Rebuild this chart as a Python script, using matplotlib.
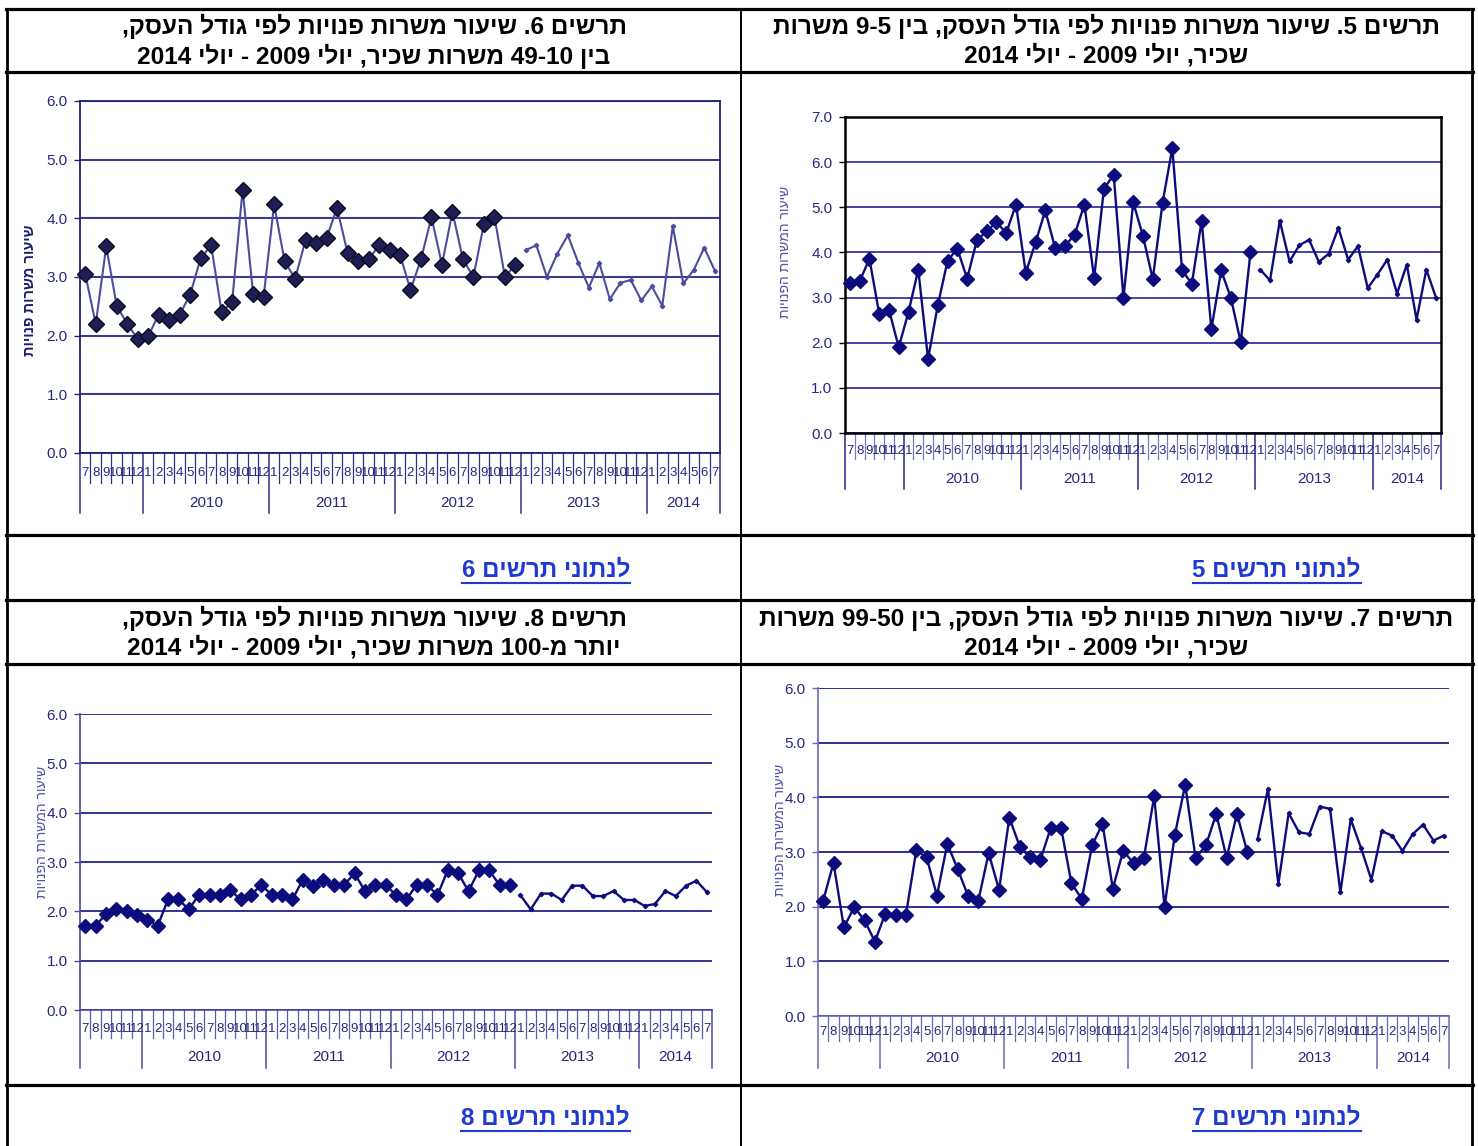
import re
import matplotlib
matplotlib.use('Agg')
import matplotlib.pyplot as plt
from matplotlib.lines import Line2D

W, H = 1478, 1146

# ---- data (7/2009 .. 7/2014, 61 months) ----
months = ['7', '8', '9', '10', '11', '12'] + [str(m) for m in range(1, 13)] * 4 + [str(m) for m in range(1, 8)]
years = ['2010', '2011', '2012', '2013', '2014']
year_start = [6, 18, 30, 42, 54]

# chart 5: 5-9 employees
c5_old = [3.32, 3.36, 3.86, 2.64, 2.73, 1.90, 2.68, 3.62, 1.64, 2.83, 3.82, 4.08,
          3.42, 4.27, 4.47, 4.67, 4.43, 5.06, 3.55, 4.22, 4.93, 4.10, 4.14, 4.39,
          5.06, 3.43, 5.41, 5.72, 2.99, 5.11, 4.36, 3.41, 5.10, 6.31, 3.60, 3.31,
          4.70, 2.30, 3.60, 2.99, 2.01, 4.00]
c5_new = [3.62, 3.38, 4.70, 3.80, 4.16, 4.28, 3.79, 3.97, 4.54, 3.84, 4.14, 3.21,
          3.51, 3.84, 3.09, 3.73, 2.51, 3.62, 2.99]

# chart 6: 10-49 employees
c6_old = [3.05, 2.20, 3.52, 2.51, 2.20, 1.95, 1.99, 2.36, 2.26, 2.36, 2.70, 3.32,
          3.54, 2.40, 2.58, 4.49, 2.71, 2.66, 4.24, 3.27, 2.97, 3.63, 3.58, 3.66,
          4.18, 3.41, 3.28, 3.30, 3.54, 3.46, 3.38, 2.78, 3.30, 4.02, 3.21, 4.11,
          3.30, 3.00, 3.91, 4.03, 3.00, 3.21]
c6_new = [3.46, 3.54, 3.00, 3.40, 3.71, 3.24, 2.82, 3.24, 2.62, 2.90, 2.95, 2.60,
          2.84, 2.51, 3.87, 2.89, 3.12, 3.50, 3.11]

# chart 7: 50-99 employees
c7_old = [2.11, 2.80, 1.62, 1.99, 1.75, 1.36, 1.87, 1.84, 1.85, 3.03, 2.90, 2.20,
          3.15, 2.69, 2.20, 2.11, 2.98, 2.31, 3.63, 3.10, 2.90, 2.86, 3.44, 3.44,
          2.43, 2.14, 3.12, 3.52, 2.33, 3.02, 2.80, 2.89, 4.02, 2.00, 3.32, 4.23,
          2.89, 3.12, 3.70, 2.89, 3.70, 3.00]
c7_new = [3.24, 4.16, 2.41, 3.71, 3.36, 3.33, 3.83, 3.79, 2.26, 3.60, 3.07, 2.49,
          3.38, 3.30, 3.02, 3.33, 3.50, 3.21, 3.30]

# chart 8: 100+ employees
c8_old = [1.71, 1.71, 1.94, 2.04, 2.00, 1.92, 1.82, 1.71, 2.24, 2.24, 2.04, 2.34,
          2.34, 2.34, 2.43, 2.24, 2.33, 2.54, 2.33, 2.33, 2.24, 2.64, 2.52, 2.63,
          2.54, 2.54, 2.77, 2.41, 2.53, 2.53, 2.33, 2.24, 2.54, 2.54, 2.33, 2.83,
          2.77, 2.41, 2.83, 2.83, 2.53, 2.53]
c8_new = [2.33, 2.04, 2.36, 2.36, 2.23, 2.52, 2.52, 2.31, 2.31, 2.41, 2.23, 2.23,
          2.11, 2.15, 2.41, 2.31, 2.52, 2.62, 2.39]

titles = {
    5: ['תרשים 5. שיעור משרות פנויות לפי גודל העסק, בין 5-9 משרות',
        'שכיר, יולי 2009 - יולי 2014'],
    6: ['תרשים 6. שיעור משרות פנויות לפי גודל העסק,',
        'בין 10-49 משרות שכיר, יולי 2009 - יולי 2014'],
    7: ['תרשים 7. שיעור משרות פנויות לפי גודל העסק, בין 50-99 משרות',
        'שכיר, יולי 2009 - יולי 2014'],
    8: ['תרשים 8. שיעור משרות פנויות לפי גודל העסק,',
        'יותר מ-100 משרות שכיר, יולי 2009 - יולי 2014'],
}
link_fmt = 'לנתוני תרשים {}'
ylab_short = 'שיעור משרות פנויות'
ylab_long = 'שיעור המשרות הפנויות'

HEB = ['Liberation Sans', 'DejaVu Sans']
NARROW = ['Liberation Sans Narrow', 'Liberation Sans', 'DejaVu Sans']


def rtl(s):
    # crude visual ordering for right-to-left text, digit runs kept LTR
    r = s[::-1]
    return re.sub(r'\d+', lambda m: m.group(0)[::-1], r)


fig = plt.figure(figsize=(W / 100, H / 100), dpi=100)
fig.patch.set_facecolor('white')


def fx(x):
    return x / W


def fy(y):
    return 1 - y / H


# ---- table grid ----
for y in [9, 72, 535, 600, 664, 1085]:
    fig.add_artist(Line2D([fx(6), fx(1473)], [fy(y), fy(y)], color='black', lw=2.3))
for x in [7, 1472]:
    fig.add_artist(Line2D([fx(x), fx(x)], [fy(9), fy(1146)], color='black', lw=2.0))
fig.add_artist(Line2D([fx(741), fx(741)], [fy(9), fy(1146)], color='black', lw=1.4))

# ---- titles and links ----
cells = {5: (741, 1472, 9, 535), 6: (7, 741, 9, 535), 7: (741, 1472, 600, 1085), 8: (7, 741, 600, 1085)}
title_y = {5: (26, 56), 6: (26, 56), 7: (618, 648), 8: (618, 648)}
link_y = {5: 570, 6: 570, 7: 1118, 8: 1118}

links = []
for n, (l, r, t, b) in cells.items():
    cx = (l + r) / 2
    for line, y in zip(titles[n], title_y[n]):
        fig.text(fx(cx), fy(y), rtl(line), ha='center', va='center', fontsize=17.6,
                 fontweight='bold', family=HEB, color='black')
    links.append(fig.text(fx(r - 111), fy(link_y[n]), rtl(link_fmt.format(n)), ha='right',
                          va='center', fontsize=17.4, fontweight='bold', family=HEB, color='#1f3ad2'))


def panel(rect, ymax, old, new, st):
    l, t, r, b = rect
    hpx = b - t
    ax = fig.add_axes([fx(l), fy(b), (r - l) / W, hpx / H])
    ax.set_facecolor('none')
    x_old = list(range(len(old)))
    x_new = list(range(len(old), len(old) + len(new)))
    ax.plot(x_old, old, color=st['line'], lw=st['lw'], marker='D', ms=st['ms'],
            mfc=st['mfc'], mec=st['mec'], mew=1.0, zorder=4, clip_on=False)
    ax.plot(x_new, new, color=st['line'], lw=st['lw'], marker='D', ms=2.2,
            mfc=st['line'], mec=st['line'], zorder=4, clip_on=False)
    ax.set_xlim(-0.5, len(months) - 0.5)
    ax.set_ylim(0, ymax)
    ax.set_yticks(range(ymax + 1))
    ax.set_yticklabels([f'{v:.1f}' for v in range(ymax + 1)], fontsize=11, family=NARROW,
                       color='#27277f')
    ax.tick_params(axis='y', length=4, width=1, color=st['spine'], pad=5)
    ax.set_xticks([])
    ax.grid(axis='y', color=st['grid'], lw=st['glw'], zorder=1)
    ax.set_axisbelow(True)
    for side in ['top', 'right']:
        ax.spines[side].set_visible(st['box'])
        ax.spines[side].set_color(st['frame'])
        ax.spines[side].set_linewidth(st['flw'])
    ax.spines['bottom'].set_color(st['frame'])
    ax.spines['bottom'].set_linewidth(st['flw'])
    ax.spines['left'].set_color(st['spine'] if not st['box'] else st['frame'])
    ax.spines['left'].set_linewidth(st['flw'] if st['box'] else 1.2)

    tr = ax.get_xaxis_transform()
    d_mlab, d_msep, d_ylab, d_ysep = st['dy']
    bounds = [s - 0.5 for s in year_start]
    for i, m in enumerate(months):
        ax.text(i, -d_mlab / hpx, m, transform=tr, ha='center', va='center', fontsize=9.5,
                family=NARROW, color='#27277f', clip_on=False)
        xs = i + 0.5
        if xs < len(months) - 0.5 and xs not in bounds:
            ax.plot([xs, xs], [0, -d_msep / hpx], transform=tr, color=st['msep'], lw=0.9,
                    clip_on=False)
    for xs in [-0.5] + bounds + [len(months) - 0.5]:
        ax.plot([xs, xs], [0, -d_ysep / hpx], transform=tr, color=st['ysep'], lw=1.1,
                clip_on=False)
    ends = year_start + [len(months)]
    for k, yr in enumerate(years):
        cx = (ends[k] + ends[k + 1] - 1) / 2
        ax.text(cx, -d_ylab / hpx, yr, transform=tr, ha='center', va='center', fontsize=11,
                family=NARROW, color='#27277f', clip_on=False)

    lx, ly, txt, bold, lc = st['ylab']
    fig.text(fx(lx), fy(ly), rtl(txt), rotation=90, ha='center', va='center',
             fontsize=10.5 if bold else 10, fontweight='bold' if bold else 'normal',
             family=HEB, color=lc)
    return ax


# chart 6 (top left)
panel((80, 101, 720, 453), 6, c6_old, c6_new,
      dict(line='#4c4c9e', lw=1.5, ms=7.8, mfc='#1e1e55', mec='#0a0a20', grid='#3c3c8c', glw=1.5,
           box=True, frame='#1f1f78', flw=1.3, spine='#1f1f78', msep='#30308a', ysep='#30308a',
           dy=(20, 30, 50, 60), ylab=(30, 290, ylab_short, True, '#1c1c6e')))

# chart 5 (top right)
panel((845, 117, 1441, 433), 7, c5_old, c5_new,
      dict(line='#0c0c7c', lw=1.7, ms=7.5, mfc='#0c0c7c', mec='#0c0c7c', grid='#3535a0', glw=1.3,
           box=True, frame='black', flw=1.8, spine='black', msep='#7a7ac4', ysep='#25258a',
           dy=(18, 26, 46, 56), ylab=(785, 252, ylab_long, False, '#5050aa')))

# chart 8 (bottom left)
panel((80, 714, 712, 1010), 6, c8_old, c8_new,
      dict(line='#0c0c7c', lw=1.7, ms=7.5, mfc='#0c0c7c', mec='#0c0c7c', grid='#22228c', glw=1.3,
           box=False, frame='#4a4aa0', flw=1.2, spine='#4a4aa0', msep='#5a5aaa', ysep='#4a4aa0',
           dy=(19, 28, 47, 58), ylab=(42, 832, ylab_long, False, '#5050aa')))

# chart 7 (bottom right)
panel((818, 688, 1449, 1016), 6, c7_old, c7_new,
      dict(line='#0c0c7c', lw=1.7, ms=7.5, mfc='#0c0c7c', mec='#0c0c7c', grid='#1e1e88', glw=1.3,
           box=False, frame='#6a6ab4', flw=1.2, spine='#6a6ab4', msep='#6a6ab4', ysep='#6a6ab4',
           dy=(16, 25, 42, 52), ylab=(780, 830, ylab_long, False, '#5050aa')))

# underline the links
fig.canvas.draw()
renderer = fig.canvas.get_renderer()
for t in links:
    bb = t.get_window_extent(renderer)
    y = bb.y0 - 1
    fig.add_artist(Line2D([bb.x0 / W, bb.x1 / W], [y / H, y / H], color='#1f3ad2', lw=1.5))

fig.savefig('out.png', dpi=100)
